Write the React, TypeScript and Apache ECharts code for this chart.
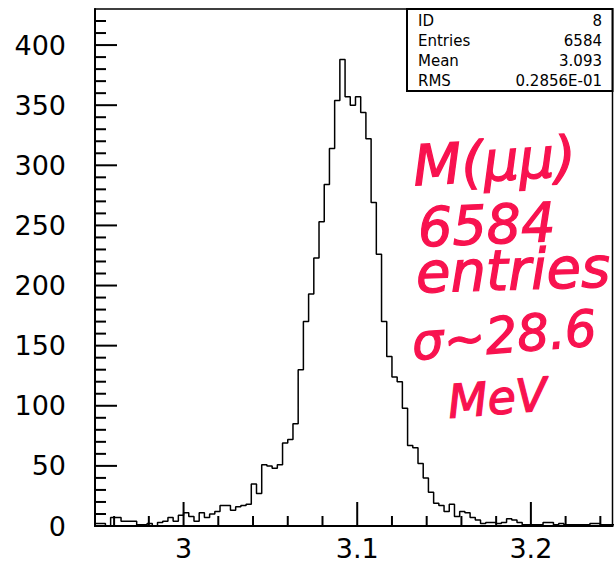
import React, { useEffect, useRef } from 'react';
import * as echarts from 'echarts';

// Histogram: 100 bins of 0.003 starting at 2.949
const BIN_START = 2.949;
const BIN_WIDTH = 0.003;
const counts = [
  2, 2, 0, 7, 7, 4, 4, 4, 1, 1,
  2, 0, 3, 4, 7, 4, 9, 11, 8, 4,
  11, 7, 10, 12, 17, 17, 13, 16, 17, 18,
  35, 27, 51, 50, 48, 51, 69, 72, 85, 130,
  170, 193, 223, 253, 284, 314, 354, 388, 357, 350,
  357, 344, 322, 269, 226, 170, 141, 124, 120, 98,
  67, 65, 52, 40, 28, 19, 17, 12, 18, 8,
  12, 11, 7, 5, 2, 3, 3, 2, 3, 6,
  5, 3, 1, 1, 1, 1, 3, 3, 1, 2,
  1, 1, 1, 1, 1, 2, 2, 1, 1, 1,
];

const X_MIN = 2.949;
const X_MAX = 3.247;
const Y_MIN = 0;
const Y_MAX = 430;

const xMinorTicks = [2.96, 2.98, 3.02, 3.04, 3.06, 3.08, 3.12, 3.14, 3.16, 3.18, 3.22, 3.24];
const xMajorTicks = [3.0, 3.1, 3.2];
const xMajorLabels = ['3', '3.1', '3.2'];
const yMinorTicks = [10, 20, 30, 40, 60, 70, 80, 90, 110, 120, 130, 140, 160, 170, 180, 190,
  210, 220, 230, 240, 260, 270, 280, 290, 310, 320, 330, 340, 360, 370, 380, 390, 410, 420];
const yMajorTicks = [0, 50, 100, 150, 200, 250, 300, 350, 400];

const statsLabels = ['ID', 'Entries', 'Mean', 'RMS'];
const statsValues = ['8', '6584', '3.093', '0.2856E-01'];

const notes = ['M(μμ)', '6584', 'entries', 'σ~28.6', 'MeV'];

const INK = '#f8124f';
const X_MINOR_LEN = 10;
const X_MAJOR_LEN = 24;
const Y_MINOR_LEN = 11;
const Y_MAJOR_LEN = 22;

export default function App() {
  const ref = useRef<HTMLDivElement>(null);

  useEffect(() => {
    if (!ref.current) return;
    const chart = echarts.init(ref.current, undefined, { renderer: 'svg' });

    const stepData: number[][] = counts.map((c, i) => [BIN_START + i * BIN_WIDTH, c]);
    stepData.push([BIN_START + counts.length * BIN_WIDTH, counts[counts.length - 1]]);

    const labelFont = {
      fontFamily: 'DejaVu Sans',
      fontSize: 27,
      color: '#000',
    };

    const noteStyle = (size: number) => ({
      fill: INK,
      stroke: INK,
      lineWidth: 1.3,
      font: `italic 500 ${size}px "DejaVu Sans"`,
      textVerticalAlign: 'middle' as const,
    });

    chart.setOption({
      animation: false,
      grid: {
        left: 95,
        right: 1.5,
        top: 9,
        bottom: 41,
        show: true,
        borderColor: '#000',
        borderWidth: 1.5,
      },
      xAxis: {
        type: 'value',
        min: X_MIN,
        max: X_MAX,
        position: 'bottom',
        axisLine: { show: true, onZero: false, lineStyle: { color: '#000', width: 2 } },
        axisTick: { show: false },
        axisLabel: {
          show: true,
          customValues: xMajorTicks,
          margin: 9,
          ...labelFont,
          formatter: (v: number) => {
            const idx = xMajorTicks.findIndex((t) => Math.abs(t - v) < 1e-6);
            return idx >= 0 ? xMajorLabels[idx] : '';
          },
        },
        splitLine: { show: false },
      },
      yAxis: {
        type: 'value',
        min: Y_MIN,
        max: Y_MAX,
        interval: 50,
        position: 'left',
        axisLine: { show: true, onZero: false, lineStyle: { color: '#000', width: 2 } },
        axisTick: { show: false },
        axisLabel: { show: true, margin: 29, showMaxLabel: false, ...labelFont },
        splitLine: { show: false },
      },
      series: [
        {
          type: 'line',
          step: 'end',
          data: stepData,
          showSymbol: false,
          symbol: 'none',
          clip: true,
          lineStyle: { color: '#000', width: 1.5 },
          z: 3,
        },
      ],
    });

    // Tick marks placed through the chart's own coordinate conversion
    const toPx = (x: number, y: number) => chart.convertToPixel({ gridIndex: 0 }, [x, y]) as number[];
    const xTickEls = [
      ...xMinorTicks.map((v) => ({ v, len: X_MINOR_LEN })),
      ...xMajorTicks.map((v) => ({ v, len: X_MAJOR_LEN })),
    ].map(({ v, len }) => {
      const p = toPx(v, Y_MIN);
      return {
        type: 'line',
        z: 20,
        shape: { x1: p[0], y1: p[1], x2: p[0], y2: p[1] - len },
        style: { stroke: '#000', lineWidth: 2 },
      };
    });
    const yTickEls = [
      ...yMinorTicks.map((v) => ({ v, len: Y_MINOR_LEN })),
      ...yMajorTicks.map((v) => ({ v, len: Y_MAJOR_LEN })),
    ].map(({ v, len }) => {
      const p = toPx(X_MIN, v);
      return {
        type: 'line',
        z: 20,
        shape: { x1: p[0], y1: p[1], x2: p[0] + len, y2: p[1] },
        style: { stroke: '#000', lineWidth: 2 },
      };
    });

    const statsEls = [
      {
        type: 'rect',
        z: 10,
        shape: { x: 407, y: 9, width: 205.5, height: 82 },
        style: { fill: '#fff', stroke: '#000', lineWidth: 2 },
      },
      ...statsLabels.map((t, i) => ({
        type: 'text',
        z: 11,
        x: 418,
        y: 20.5 + i * 20.3,
        style: { text: t, fill: '#000', font: '15px "DejaVu Sans"', textVerticalAlign: 'middle' },
      })),
      ...statsValues.map((t, i) => ({
        type: 'text',
        z: 11,
        x: 602,
        y: 20.5 + i * 20.3,
        style: { text: t, fill: '#000', font: '15px "DejaVu Sans"', textAlign: 'right', textVerticalAlign: 'middle' },
      })),
    ];

    chart.setOption({
      graphic: [
        ...xTickEls,
        ...yTickEls,
        ...statsEls,
        { type: 'text', x: 413, y: 166, rotation: 0.06, z: 10, style: { text: notes[0], ...noteStyle(56) } },
        { type: 'text', x: 418, y: 228, rotation: 0.04, z: 10, style: { text: notes[1], ...noteStyle(54) } },
        { type: 'text', x: 416, y: 273, rotation: 0.03, z: 10, style: { text: notes[2], ...noteStyle(56) } },
        { type: 'text', x: 412, y: 343, rotation: 0.08, z: 10, style: { text: notes[3], ...noteStyle(50) } },
        { type: 'text', x: 448, y: 402, rotation: 0.08, z: 10, style: { text: notes[4], ...noteStyle(46) } },
      ],
    });

    return () => chart.dispose();
  }, []);

  return (
    <div
      ref={ref}
      style={{ position: 'fixed', left: 0, top: 0, width: 614, height: 567, background: '#fff' }}
    />
  );
}
